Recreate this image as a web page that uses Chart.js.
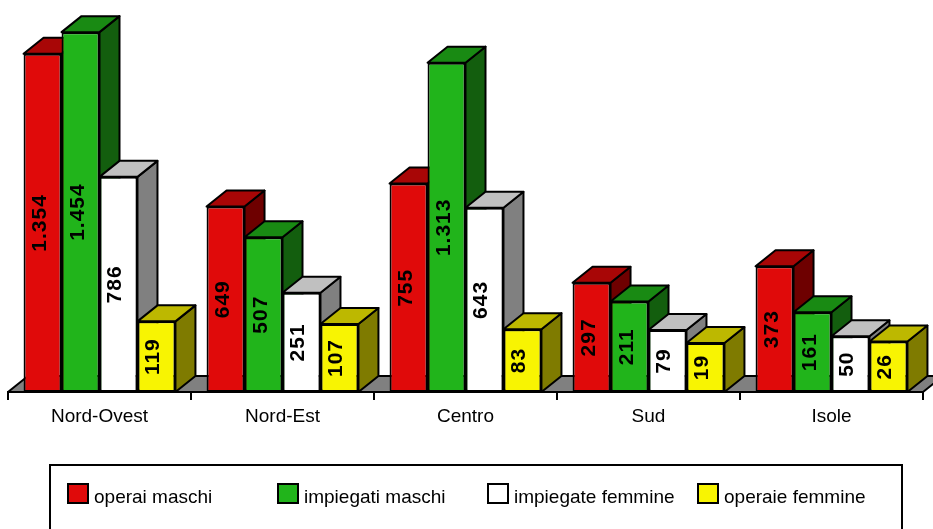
<!DOCTYPE html>
<html lang="it">
<head>
<meta charset="utf-8">
<title>Occupati per ripartizione</title>
<script src="https://cdn.jsdelivr.net/npm/chart.js@4/dist/chart.umd.min.js"></script>
<style>
    html, body { margin: 0; padding: 0; background: #fff; }
    #wrap { width: 933px; height: 529px; }
</style>
</head>
<body>
<div id="wrap"><canvas id="chart" width="933" height="529"></canvas></div>
<script>
// Dati (migliaia)
const categorie = ['Nord-Ovest', 'Nord-Est', 'Centro', 'Sud', 'Isole'];
const operaiMaschi = [1354, 649, 755, 297, 373];
const impiegatiMaschi = [1454, 507, 1313, 211, 161];
const impiegateFemmine = [786, 251, 643, 79, 50];
const operaieFemmine = [119, 107, 83, 19, 26];

// Il pavimento 3D non parte da zero
const Y_MIN = -207;
const Y_MAX = 1510;

const FONT = '"Liberation Sans", Arial, sans-serif';
const DX = 20, DY = -16;

// colori: fronte, sopra, lato
const serie = [
    { label: 'operai maschi', data: operaiMaschi, colors: ['#e00a0a', '#a80606', '#6e0000'] },
    { label: 'impiegati maschi', data: impiegatiMaschi, colors: ['#21b41b', '#198a13', '#135e0e'] },
    { label: 'impiegate femmine', data: impiegateFemmine, colors: ['#ffffff', '#c0c0c0', '#808080'] },
    { label: 'operaie femmine', data: operaieFemmine, colors: ['#f8f402', '#bdb800', '#7f7b00'] }
];

function formatta(v) {
    return String(v).replace(/\B(?=(\d{3})+(?!\d))/g, '.');
}

function poly(ctx, pts, fill) {
    ctx.beginPath();
    ctx.moveTo(pts[0][0], pts[0][1]);
    for (let i = 1; i < pts.length; i++) {
        ctx.lineTo(pts[i][0], pts[i][1]);
    }
    ctx.closePath();
    ctx.fillStyle = fill;
    ctx.fill();
    ctx.stroke();
}

const barre3d = {
    id: 'barre3d',
    beforeDatasetsDraw(chart) {
        const ctx = chart.ctx;
        const a = chart.chartArea;
        ctx.save();
        ctx.strokeStyle = '#000';
        ctx.lineWidth = 2;
        ctx.lineJoin = 'round';

        // pavimento
        poly(ctx, [[a.left, a.bottom], [a.right, a.bottom],
            [a.right + DX, a.bottom + DY], [a.left + DX, a.bottom + DY]], '#808080');

        // facce superiori e laterali, categoria per categoria
        for (let c = 0; c < categorie.length; c++) {
            serie.forEach((s, i) => {
                const el = chart.getDatasetMeta(i).data[c];
                const l = el.x - el.width / 2;
                const r = el.x + el.width / 2;
                poly(ctx, [[r, el.y], [r + DX, el.y + DY], [r + DX, el.base + DY], [r, el.base]], s.colors[2]);
                poly(ctx, [[l, el.y], [r, el.y], [r + DX, el.y + DY], [l + DX, el.y + DY]], s.colors[1]);
            });
        }
        ctx.restore();
    },
    afterDatasetsDraw(chart) {
        const ctx = chart.ctx;
        ctx.save();
        ctx.fillStyle = '#000';
        ctx.font = 'bold 21px ' + FONT;
        ctx.letterSpacing = '1px';
        ctx.textAlign = 'center';
        ctx.textBaseline = 'alphabetic';
        serie.forEach((s, i) => {
            chart.getDatasetMeta(i).data.forEach((el, j) => {
                ctx.save();
                ctx.translate(el.x, (el.y + el.base) / 2);
                ctx.rotate(-Math.PI / 2);
                ctx.fillText(formatta(s.data[j]), 0, 3);
                ctx.restore();
            });
        });
        ctx.restore();
    },
    afterDraw(chart) {
        const ctx = chart.ctx;
        ctx.save();
        ctx.strokeStyle = '#000';
        ctx.lineWidth = 2;
        ctx.strokeRect(50, 465, 852, 90);

        ctx.font = '19px ' + FONT;
        ctx.textBaseline = 'alphabetic';
        ctx.textAlign = 'left';
        serie.forEach((s, i) => {
            const x = 68 + i * 210;
            ctx.fillStyle = s.colors[0];
            ctx.fillRect(x, 484, 20, 19);
            ctx.strokeRect(x, 484, 20, 19);
            ctx.fillStyle = '#000';
            ctx.fillText(s.label, x + 26, 503);
        });
        ctx.restore();
    }
};

new Chart(document.getElementById('chart'), {
    type: 'bar',
    data: {
        labels: categorie,
        datasets: serie.map(s => ({
            label: s.label,
            data: s.data,
            base: Y_MIN,
            backgroundColor: s.colors[0],
            borderColor: '#000',
            borderWidth: 2,
            borderSkipped: false,
            barPercentage: 1,
            categoryPercentage: 0.83
        }))
    },
    options: {
        responsive: false,
        animation: false,
        events: [],
        layout: { padding: { left: 8, right: 10, top: 20, bottom: 0 } },
        plugins: {
            legend: { display: false },
            tooltip: { enabled: false }
        },
        scales: {
            x: {
                offset: true,
                afterFit(scale) { scale.height = 137; },
                grid: {
                    offset: true,
                    drawOnChartArea: false,
                    color: '#000',
                    lineWidth: 2,
                    tickLength: 8
                },
                border: { display: true, color: '#000', width: 2 },
                ticks: {
                    color: '#000',
                    padding: 5,
                    maxRotation: 0,
                    font: { family: FONT, size: 19 }
                }
            },
            y: {
                display: false,
                min: Y_MIN,
                max: Y_MAX
            }
        }
    },
    plugins: [barre3d]
});
</script>
</body>
</html>
